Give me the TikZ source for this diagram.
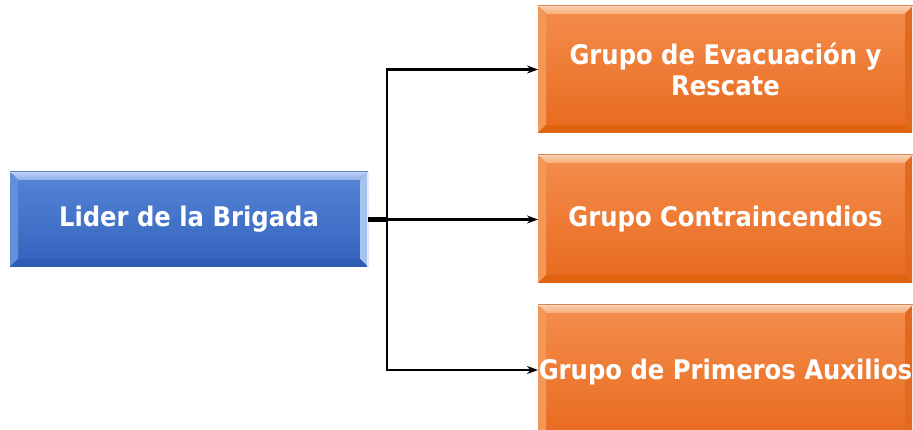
\documentclass[tikz,border=0pt]{standalone}
\usepackage{fontspec}
\setmainfont{DejaVu Sans Condensed}
\usetikzlibrary{calc,arrows.meta}
\definecolor{orTop}{HTML}{F48D4D}
\definecolor{orBot}{HTML}{E86A1E}
\definecolor{orHi}{HTML}{F8AE78}
\definecolor{orSide}{HTML}{F39858}
\definecolor{orRight}{HTML}{E06A20}
\definecolor{orBotB}{HTML}{E0640F}
\definecolor{blTop}{HTML}{5585D6}
\definecolor{blBot}{HTML}{3362BD}
\definecolor{blHi}{HTML}{8DAFEA}
\definecolor{blSide}{HTML}{628FDA}
\definecolor{blRight}{HTML}{A8C3F0}
\definecolor{blBotB}{HTML}{2F5DB6}
\tikzset{
  bevelbox/.style n args={6}{
    inner sep=0pt, outer sep=0pt, align=center, text=white,
    font=\bfseries\fontsize{27}{31}\selectfont,
    path picture={
      \coordinate (bsw) at (path picture bounding box.south west);
      \coordinate (bne) at (path picture bounding box.north east);
      \coordinate (bnw) at (path picture bounding box.north west);
      \coordinate (bse) at (path picture bounding box.south east);
      \fill[top color=#1, bottom color=#2] (bsw) rectangle (bne);
      \fill[top color=white!40!#3, bottom color=#3] (bnw) -- (bne) -- ($(bne)+(-8,-8)$) -- ($(bnw)+(8,-8)$) -- cycle;
      \fill[#4] (bsw) -- (bnw) -- ($(bnw)+(8,-8)$) -- ($(bsw)+(8,8)$) -- cycle;
      \fill[#5] (bse) -- (bne) -- ($(bne)+(-8,-8)$) -- ($(bse)+(-8,8)$) -- cycle;
      \fill[#6] (bsw) -- (bse) -- ($(bse)+(-8,8)$) -- ($(bsw)+(8,8)$) -- cycle;
      \draw[white!75!#3, line width=1.5pt] ($(bne)+(-0.75,0)$) -- ($(bse)+(-0.75,0)$);
      \draw[white!50!#3, line width=1pt] ($(bnw)+(0,-0.5)$) -- ($(bne)+(0,-0.5)$);
    }},
  orbox/.style={bevelbox={orTop}{orBot}{orHi}{orSide}{orRight}{orBotB}},
  blbox/.style={bevelbox={blTop}{blBot}{blHi}{blSide}{blRight}{blBotB}},
  conn/.style={line width=2.4pt, -{Stealth[length=11pt,width=8pt]}}
}
\begin{document}
\begin{tikzpicture}[x=1pt,y=1pt]
\useasboundingbox (0,0) rectangle (913,430);
\clip (0,0) rectangle (913,430);
\node[blbox, minimum width=358pt, minimum height=95pt] (lider) at (189,210.5) {Lider de la Brigada};
\node[orbox, minimum width=375pt, minimum height=127pt] (g1) at (725.5,360.5) {Grupo de Evacuación y\\Rescate};
\node[orbox, minimum width=375pt, minimum height=128pt] (g2) at (725.5,211) {Grupo Contraincendios};
\node[orbox, minimum width=375pt, minimum height=135pt] (g3) at (725.5,57.5) {Grupo de Primeros Auxilios};
\coordinate (j) at (387,210.5);
\draw[line width=4.5pt] (lider.east) -- (j);
\draw[conn] (j) |- (g1.west);
\draw[conn] (j) -- (j -| g2.west);
\draw[conn] (j) |- (g3.west |- 0,60);
\end{tikzpicture}
\end{document}
